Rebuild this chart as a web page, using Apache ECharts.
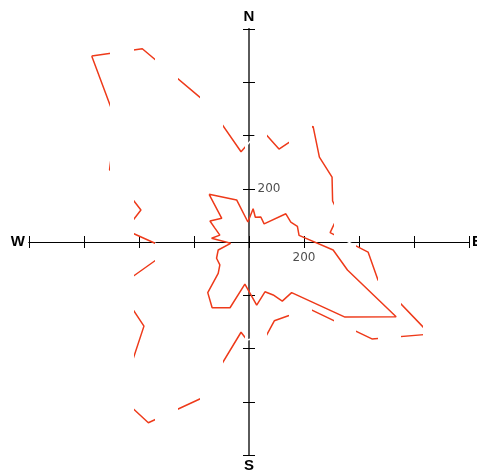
<!DOCTYPE html>
<html>
<head>
<meta charset="utf-8">
<script src="https://cdn.jsdelivr.net/npm/echarts@6/dist/echarts.min.js"></script>
<style>
  html, body { margin: 0; padding: 0; background: #fff; }
  #chart { width: 477px; height: 472px; }
</style>
</head>
<body>
<div id="chart"></div>
<script>
// Displacement traces (east / north components)
const innerEast  = [-145, -45, -4, 15, 23, 43, 55, 134, 152, 176, 182, 306, 358, 535, 349, 155, 121, 88, 58, 28, -15, -69, -134, -150, -112, -106, -118, -112, -67, -136, -106, -124, -142, -99, -145];
const innerNorth = [179, 158, 75, 125, 93, 94, 68, 106, 75, 59, 25, -30, -105, -281, -282, -190, -222, -199, -187, -237, -158, -247, -247, -190, -118, -86, -61, -30, -5, 14, 26, 52, 79, 89, 179];

const outerEast  = [-572, -388, -149, -29, 44, 109, 233, 256, 302, 304, 327, 295, 433, 469, 658, 447, 227, 143, 92, 64, -7, -29, -175, -366, -467, -382, -476, -287, -449, -393, -507, -484, -572];
const outerNorth = [699, 726, 518, 339, 424, 349, 434, 319, 244, 154, 105, 35, -38, -143, -346, -364, -255, -277, -296, -350, -368, -339, -588, -679, -582, -316, -169, -30, 45, 120, 272, 455, 699];

// Ticks that carry a text label
const labelledTicks = [200];

const RED = '#ee3a1a';
const pairs = (xs, ys) => xs.map((x, i) => [x, ys[i]]);

const nameStyle = { fontFamily: 'Liberation Sans', fontWeight: 'bold', fontSize: 15, color: '#000' };
function axis(extra, lineColor, lineWidth) {
  return Object.assign({
    type: 'value', min: -800, max: 800, interval: 200,
    splitLine: { show: false },
    axisLabel: { show: false },
    axisLine: { show: true, onZero: true, onZeroAxisIndex: 0, lineStyle: { color: lineColor, width: lineWidth } },
    axisTick: { show: true, length: 6, lineStyle: { color: '#000', width: 1 } },
    nameTextStyle: nameStyle
  }, extra);
}

// Tick labels placed at their tick positions on the zero lines
const tickLabelData = [];
labelledTicks.forEach(v => {
  tickLabelData.push({ value: [v, 0], label: { position: 'bottom', distance: 9 } });
  tickLabelData.push({ value: [0, v], label: { position: 'right', distance: 8 } });
});

const chart = echarts.init(document.getElementById('chart'), null, { renderer: 'canvas' });
chart.setOption({
  animation: false,
  backgroundColor: '#fff',
  grid: { left: 29, right: 8, top: 29, bottom: 17, containLabel: false, outerBoundsMode: 'none' },
  xAxis: [
    axis({ position: 'bottom', name: 'E', nameLocation: 'end', nameGap: 3 }, '#000', 1),
    axis({ position: 'top', name: 'W', nameLocation: 'start', nameGap: 4 }, '#000', 1)
  ],
  yAxis: [
    axis({ position: 'left', name: 'N', nameLocation: 'end', nameGap: 5 }, '#5a5a5a', 2),
    axis({ position: 'right', name: 'S', nameLocation: 'start', nameGap: 3 }, '#5a5a5a', 2)
  ],
  visualMap: {
    show: false,
    type: 'piecewise',
    seriesIndex: 1,
    dimension: 0,
    pieces: [
      { gte: -582, lte: -504, color: RED },
      { gte: -418, lte: -340, color: RED },
      { gte: -258, lte: -178, color: RED },
      { gte: -95,  lte: -16,  color: RED },
      { gte: 67,   lte: 146,  color: RED },
      { gte: 229,  lte: 308,  color: RED },
      { gte: 389,  lte: 468,  color: RED },
      { gte: 553,  lte: 632,  color: RED }
    ],
    outOfRange: { color: '#ffffff' }
  },
  series: [
    {
      type: 'line', xAxisIndex: 0, yAxisIndex: 0,
      data: pairs(innerEast, innerNorth),
      showSymbol: false, symbol: 'none',
      lineStyle: { color: RED, width: 1.5 },
      itemStyle: { color: RED },
      z: 3
    },
    {
      type: 'line', xAxisIndex: 0, yAxisIndex: 0,
      data: pairs(outerEast, outerNorth),
      showSymbol: false, symbol: 'none',
      lineStyle: { width: 1.5 },
      z: 3
    },
    {
      type: 'scatter', xAxisIndex: 0, yAxisIndex: 0,
      data: tickLabelData,
      symbol: 'circle', symbolSize: 1,
      itemStyle: { color: 'rgba(0,0,0,0)' },
      silent: true,
      label: {
        show: true,
        formatter: p => String(p.value[0] || p.value[1]),
        color: '#222', fontSize: 12, fontFamily: 'DejaVu Sans'
      },
      z: 4
    }
  ]
});
</script>
</body>
</html>
